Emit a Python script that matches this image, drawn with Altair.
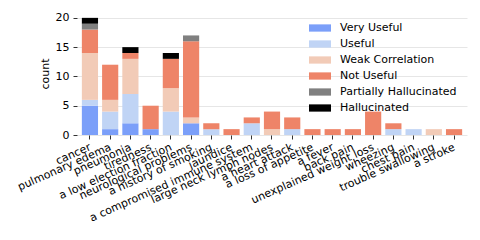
import altair as alt
import pandas as pd

categories = ["cancer", "pulmonary edema", "pneumonia", "tiredness", "a low election fraction",
              "neurological problems", "a history of smoking", "jaundice",
              "a compromised immune system", "large neck lymph nodes", "a heart attack",
              "a loss of appetite", "a fever", "back pain", "unexplained weight loss",
              "wheezing", "chest pain", "trouble swallowing", "a stroke"]

levels = ["Very Useful", "Useful", "Weak Correlation", "Not Useful",
          "Partially Hallucinated", "Hallucinated"]
colors = ["#7b9ff9", "#c0d4f5", "#f2cbb7", "#ee8468", "#808080", "#000000"]

very_useful  = [5, 1, 2, 1, 0, 2, 0, 0, 0, 0, 0, 0, 0, 0, 0, 0, 0, 0, 0]
useful       = [1, 3, 5, 0, 4, 0, 1, 0, 2, 0, 1, 0, 0, 0, 0, 1, 1, 0, 0]
weak_corr    = [8, 2, 6, 0, 4, 1, 0, 0, 0, 1, 0, 0, 0, 0, 0, 0, 0, 1, 0]
not_useful   = [4, 6, 1, 4, 5, 13, 1, 1, 1, 3, 2, 1, 1, 1, 4, 1, 0, 0, 1]
partial_hall = [1, 0, 0, 0, 0, 1, 0, 0, 0, 0, 0, 0, 0, 0, 0, 0, 0, 0, 0]
hallucinated = [1, 0, 1, 0, 1, 0, 0, 0, 0, 0, 0, 0, 0, 0, 0, 0, 0, 0, 0]

series = [very_useful, useful, weak_corr, not_useful, partial_hall, hallucinated]

rows = []
for li, (lvl, vals) in enumerate(zip(levels, series)):
    for cat, v in zip(categories, vals):
        if v > 0:
            rows.append({"symptom": cat, "level": lvl, "idx": li, "count": v})
df = pd.DataFrame(rows)

rect_path = "M-1,-0.33L1,-0.33L1,0.33L-1,0.33Z"

chart = alt.Chart(df).mark_bar().encode(
    x=alt.X("symptom:N", sort=categories,
            scale=alt.Scale(paddingInner=0.2, paddingOuter=0.24),
            axis=alt.Axis(title=None, labelAngle=-24, labelAlign="right",
                          labelBaseline="top", labelPadding=2, tickSize=4,
                          labelOffset=-2,
                          domain=False, grid=False, labelFontSize=11,
                          labelColor="#000", tickColor="#333", labelOverlap=False)),
    y=alt.Y("count:Q", stack="zero",
            scale=alt.Scale(domain=[0, 21], nice=False),
            axis=alt.Axis(title="count", values=[0, 5, 10, 15, 20], tickSize=4,
                          labelPadding=4, domain=False, grid=True, gridColor="#e6e6e6",
                          labelFontSize=11, titleFontSize=11, titleFontWeight="normal",
                          titlePadding=5, labelColor="#000", tickColor="#333",
                          titleColor="#000")),
    color=alt.Color("level:N", sort=levels,
                    scale=alt.Scale(domain=levels, range=colors),
                    legend=alt.Legend(title=None, orient="none", legendX=232, legendY=5,
                                      symbolType=rect_path, symbolSize=484,
                                      symbolStrokeWidth=0, symbolOpacity=1,
                                      labelFontSize=11, labelColor="#000",
                                      labelOffset=9, rowPadding=-3.2)),
    order=alt.Order("idx:Q", sort="ascending"),
).properties(
    width=390, height=123,
    autosize=alt.AutoSizeParams(type="none"),
    padding={"left": 69, "top": 4, "right": 2, "bottom": 100},
).configure(font="DejaVu Sans").configure_view(stroke=None).configure_axis(
    labelFont="DejaVu Sans", titleFont="DejaVu Sans"
).configure_legend(labelFont="DejaVu Sans")

chart.save("out.html", embed_options={"renderer": "svg", "actions": False})
